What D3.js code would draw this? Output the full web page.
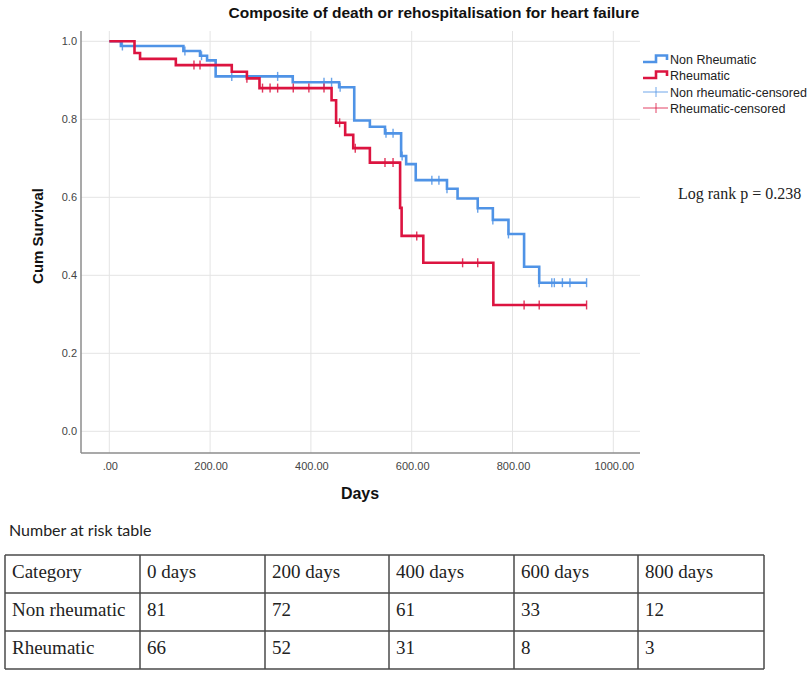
<!DOCTYPE html>
<html><head><meta charset="utf-8">
<script src="https://cdn.jsdelivr.net/npm/d3@7"></script>
<style>body{margin:0;background:#fff}svg{display:block}</style>
</head><body><svg id="c" width="812" height="677"></svg>
<script>
// ---- data ----
const xTicks = [0, 200, 400, 600, 800, 1000];
const xTickLabels = [".00", "200.00", "400.00", "600.00", "800.00", "1000.00"];
const yTicks = [0, 0.2, 0.4, 0.6, 0.8, 1.0];
const yTickLabels = ["0.0", "0.2", "0.4", "0.6", "0.8", "1.0"];

const nonRheumDays = [0, 23, 147, 180, 194, 211, 364, 456, 486, 517, 547, 579, 589, 608, 670, 691, 731, 761, 792, 823, 853, 947];
const nonRheumSurv = [1.0, 0.988, 0.975, 0.963, 0.951, 0.910, 0.895, 0.882, 0.797, 0.781, 0.764, 0.706, 0.685, 0.644, 0.622, 0.597, 0.572, 0.542, 0.506, 0.422, 0.381, 0.381];
const nonRheumCensored = [26, 150, 183, 243, 334, 426, 441, 458, 549, 563, 581, 640, 654, 670, 731, 761, 792, 853, 878, 883, 899, 914, 947];

const rheumDays = [0, 50, 61, 132, 243, 273, 298, 441, 450, 468, 484, 517, 577, 580, 623, 762, 947];
const rheumSurv = [1.0, 0.970, 0.955, 0.939, 0.922, 0.905, 0.880, 0.849, 0.791, 0.760, 0.726, 0.689, 0.573, 0.501, 0.432, 0.324, 0.324];
const rheumCensored = [168, 180, 273, 304, 319, 334, 365, 396, 426, 457, 488, 547, 563, 610, 701, 731, 823, 853, 947];

const seriesNames = ["Non Rheumatic", "Rheumatic", "Non rheumatic-censored", "Rheumatic-censored"];
const logRankText = "Log rank p = 0.238";

const tableTitle = "Number at risk table";
const tableHeader = ["Category", "0 days", "200 days", "400 days", "600 days", "800 days"];
const riskGroups = ["Non rheumatic", "Rheumatic"];
const riskNonRheum = [81, 72, 61, 33, 12];
const riskRheum = [66, 52, 31, 8, 3];

// ---- drawing ----
const blue = "#4f93e6", red = "#dc1440";
const svg = d3.select("#c");
const plot = {left: 81, right: 640, top: 31, bottom: 453};
const x = d3.scaleLinear().domain([0, 1000]).range([109.3, 613.3]);
const y = d3.scaleLinear().domain([0, 1]).range([431.3, 41.3]);

// gridlines
svg.append("g").selectAll("line").data(yTicks).join("line")
  .attr("x1", plot.left).attr("x2", plot.right)
  .attr("y1", d => y(d)).attr("y2", d => y(d))
  .attr("stroke", "#e4e4e4").attr("stroke-width", 1);
svg.append("g").selectAll("line").data(xTicks).join("line")
  .attr("x1", d => x(d)).attr("x2", d => x(d))
  .attr("y1", plot.top).attr("y2", plot.bottom)
  .attr("stroke", "#e4e4e4").attr("stroke-width", 1);

// axes lines
svg.append("line").attr("x1", plot.left).attr("x2", plot.left).attr("y1", plot.top).attr("y2", plot.bottom)
  .attr("stroke", "#8c8c8c").attr("stroke-width", 1.5);
svg.append("line").attr("x1", plot.left).attr("x2", plot.right).attr("y1", plot.bottom).attr("y2", plot.bottom)
  .attr("stroke", "#8c8c8c").attr("stroke-width", 1.5);

// tick labels
svg.append("g").selectAll("text").data(yTicks).join("text")
  .attr("x", 77).attr("y", d => y(d) + 4)
  .attr("text-anchor", "end").attr("font-family", "Liberation Sans, Arial, sans-serif")
  .attr("font-size", 11).attr("fill", "#444").text((d, i) => yTickLabels[i]);
svg.append("g").selectAll("text").data(xTicks).join("text")
  .attr("x", d => x(d) + 1).attr("y", 470)
  .attr("text-anchor", "middle").attr("font-family", "Liberation Sans, Arial, sans-serif")
  .attr("font-size", 11).attr("fill", "#444").text((d, i) => xTickLabels[i]);

// titles
svg.append("text").attr("x", 434).attr("y", 18).attr("text-anchor", "middle")
  .attr("font-family", "Liberation Sans, Arial, sans-serif").attr("font-weight", "bold")
  .attr("font-size", 15.5).attr("fill", "#111").text("Composite of death or rehospitalisation for heart failure");
svg.append("text").attr("x", 360).attr("y", 499).attr("text-anchor", "middle")
  .attr("font-family", "Liberation Sans, Arial, sans-serif").attr("font-weight", "bold")
  .attr("font-size", 16).attr("fill", "#111").text("Days");
svg.append("text").attr("transform", "translate(43,236) rotate(-90)").attr("text-anchor", "middle")
  .attr("font-family", "Liberation Sans, Arial, sans-serif").attr("font-weight", "bold")
  .attr("font-size", 15).attr("fill", "#111").text("Cum Survival");

// curves
const line = d3.line().x(d => x(d[0])).y(d => y(d[1])).curve(d3.curveStepAfter);
function levelAt(days, surv, t) {
  const i = d3.bisectRight(days, t) - 1;
  return surv[Math.max(0, i)];
}
function drawSeries(days, surv, cens, color) {
  const pts = days.map((d, i) => [d, surv[i]]);
  svg.append("path").attr("d", line(pts)).attr("fill", "none")
    .attr("stroke", color).attr("stroke-width", 2.6).attr("stroke-linejoin", "miter");
  svg.append("g").selectAll("line").data(cens).join("line")
    .attr("x1", d => x(d)).attr("x2", d => x(d))
    .attr("y1", d => y(levelAt(days, surv, d)) - 4.5)
    .attr("y2", d => y(levelAt(days, surv, d)) + 4.5)
    .attr("stroke", color).attr("stroke-width", 1.4).attr("opacity", 0.85);
}
drawSeries(nonRheumDays, nonRheumSurv, nonRheumCensored, blue);
drawSeries(rheumDays, rheumSurv, rheumCensored, red);

// legend
const lg = svg.append("g").attr("font-family", "Liberation Sans, Arial, sans-serif").attr("font-size", 12.5).attr("fill", "#222");
const legRows = [59, 75, 92, 108];
const legColors = [blue, red, blue, red];
seriesNames.forEach((name, i) => {
  const cy = legRows[i];
  if (i < 2) {
    lg.append("path").attr("d", `M643,${cy + 3}H656V${cy - 3.5}H667V${cy + 1}`)
      .attr("fill", "none").attr("stroke", legColors[i]).attr("stroke-width", 2.6);
  } else {
    lg.append("line").attr("x1", 643).attr("x2", 668).attr("y1", cy).attr("y2", cy)
      .attr("stroke", legColors[i]).attr("stroke-width", 1).attr("opacity", 0.8);
    lg.append("line").attr("x1", 656).attr("x2", 656).attr("y1", cy - 5).attr("y2", cy + 5)
      .attr("stroke", legColors[i]).attr("stroke-width", 1).attr("opacity", 0.8);
  }
  lg.append("text").attr("x", 670).attr("y", cy + 4.5).text(name);
});

// log rank
svg.append("text").attr("x", 678).attr("y", 199).attr("font-family", "Liberation Serif, Times New Roman, serif")
  .attr("font-size", 16).attr("fill", "#222").text(logRankText);

// risk table
svg.append("text").attr("x", 9).attr("y", 536).attr("font-family", "Lato, Liberation Sans, sans-serif")
  .attr("font-size", 16).attr("fill", "#222").text(tableTitle);
const colX = [5, 140, 265, 389, 514, 638, 764];
const rowY = [555, 593, 631, 669];
const rows = [tableHeader, [riskGroups[0], ...riskNonRheum], [riskGroups[1], ...riskRheum]];
const tg = svg.append("g");
tg.selectAll("line.v").data(colX).join("line").attr("class", "v")
  .attr("x1", d => d).attr("x2", d => d).attr("y1", rowY[0]).attr("y2", rowY[3])
  .attr("stroke", "#4a4a4a").attr("stroke-width", 1.5);
tg.selectAll("line.h").data(rowY).join("line").attr("class", "h")
  .attr("x1", colX[0]).attr("x2", colX[6]).attr("y1", d => d).attr("y2", d => d)
  .attr("stroke", "#4a4a4a").attr("stroke-width", 1.5);
rows.forEach((r, ri) => {
  r.forEach((v, ci) => {
    tg.append("text").attr("x", colX[ci] + 7).attr("y", rowY[ri] + 23)
      .attr("font-family", "Liberation Serif, Times New Roman, serif").attr("font-size", 19)
      .attr("fill", "#222").text(v);
  });
});
</script></body></html>
